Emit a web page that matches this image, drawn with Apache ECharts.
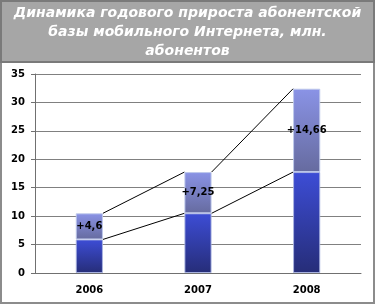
<!DOCTYPE html>
<html><head><meta charset="utf-8">
<script src="https://cdn.jsdelivr.net/npm/echarts@6/dist/echarts.min.js"></script>
<style>html,body{margin:0;padding:0;background:#fff}#c{width:375px;height:304px}</style>
</head><body><div id="c"></div>
<script>
const titleLines = ['Динамика годового прироста абонентской', 'базы мобильного Интернета, млн.', 'абонентов'];
const categories = ['2006', '2007', '2008'];
const baseValues = [5.9, 10.5, 17.75];
const growthValues = [4.6, 7.25, 14.66];
const growthLabels = ['+4,6', '+7,25', '+14,66'];
const yMin = 0, yMax = 35, yInterval = 5;

const totals = baseValues.map((b, i) => b + growthValues[i]);
const connectorData = [];
for (let i = 0; i < categories.length - 1; i++) {
  connectorData.push([i, baseValues[i], totals[i], baseValues[i + 1], totals[i + 1]]);
}

const chart = echarts.init(document.getElementById('c'));
const BAR_FRAC = 0.25;
chart.setOption({
  animation: false,
  backgroundColor: '#fff',
  title: {
    text: titleLines.join('\n'),
    left: 'center', top: 4, padding: 0,
    textStyle: { color: '#fff', fontFamily: 'DejaVu Sans', fontWeight: 'bold', fontStyle: 'italic', fontSize: 14, lineHeight: 19 }
  },
  graphic: [
    { type: 'rect', z: -10, shape: { x: 1, y: 1, width: 373, height: 302 }, style: { fill: '#fff', stroke: '#8c8c8c', lineWidth: 2 } },
    { type: 'rect', z: -9, shape: { x: 1, y: 1, width: 373, height: 61 }, style: { fill: '#a6a6a6', stroke: '#7a7a7a', lineWidth: 2 } }
  ],
  grid: { left: 35, right: 14, top: 74, bottom: 31 },
  xAxis: {
    type: 'category', data: categories,
    axisLine: { lineStyle: { color: '#707070', width: 1 } },
    axisTick: { show: false },
    axisLabel: { color: '#000', fontFamily: 'DejaVu Sans', fontWeight: 'bold', fontSize: 10, margin: 12 }
  },
  yAxis: {
    type: 'value', min: yMin, max: yMax, interval: yInterval,
    axisLine: { show: true, lineStyle: { color: '#707070' } },
    axisTick: { show: true, length: 4, lineStyle: { color: '#707070' } },
    splitLine: { lineStyle: { color: '#808080', width: 1 } },
    axisLabel: { color: '#000', fontFamily: 'DejaVu Sans', fontWeight: 'bold', fontSize: 10, margin: 10 }
  },
  series: [
    {
      type: 'bar', stack: 's', barWidth: (BAR_FRAC * 100) + '%', data: baseValues, z: 3,
      itemStyle: {
        color: { type: 'linear', x: 0, y: 0, x2: 0, y2: 1, colorStops: [
          { offset: 0, color: '#3d4dd6' }, { offset: 1, color: '#262d78' } ] },
        borderColor: 'rgba(170,180,225,0.9)', borderWidth: 1
      }
    },
    {
      type: 'bar', stack: 's', barWidth: (BAR_FRAC * 100) + '%', data: growthValues, z: 3,
      itemStyle: {
        color: { type: 'linear', x: 0, y: 0, x2: 0, y2: 1, colorStops: [
          { offset: 0, color: '#8a93e6' }, { offset: 1, color: '#666b9f' } ] },
        borderColor: 'rgba(190,200,235,0.95)', borderWidth: 1
      },
      label: {
        show: true, position: 'inside', color: '#000', fontFamily: 'DejaVu Sans', fontWeight: 'bold', fontSize: 10,
        formatter: p => growthLabels[p.dataIndex]
      }
    },
    {
      type: 'custom', data: connectorData, z: 2,
      renderItem: (params, api) => {
        const i = api.value(0);
        const bw = api.size([1, 0])[0] * BAR_FRAC;
        const a1 = api.coord([i, api.value(1)]);
        const a2 = api.coord([i, api.value(2)]);
        const b1 = api.coord([i + 1, api.value(3)]);
        const b2 = api.coord([i + 1, api.value(4)]);
        const st = { stroke: '#000', lineWidth: 1 };
        return { type: 'group', children: [
          { type: 'line', shape: { x1: a1[0] + bw / 2, y1: a1[1], x2: b1[0] - bw / 2, y2: b1[1] }, style: st },
          { type: 'line', shape: { x1: a2[0] + bw / 2, y1: a2[1], x2: b2[0] - bw / 2, y2: b2[1] }, style: st }
        ] };
      }
    }
  ]
});
</script></body></html>
